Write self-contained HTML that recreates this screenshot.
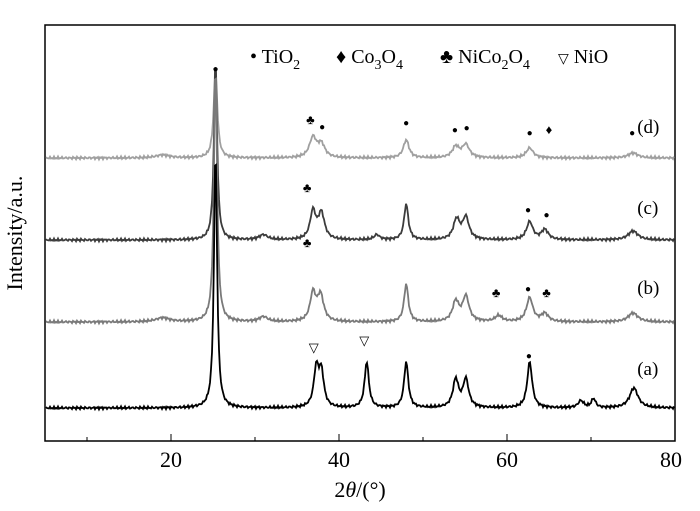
<!DOCTYPE html>
<html><head><meta charset="utf-8"><style>
html,body{margin:0;padding:0;background:#fff;}
svg{display:block;font-family:"Liberation Serif",serif;}
</style></head><body>
<svg id="chart" width="700" height="511" viewBox="0 0 700 511">
<rect x="45" y="25" width="630" height="416" fill="none" stroke="#000" stroke-width="1.5"/>
<g id="ticks"></g>
<g id="series"></g>
<g id="marks"></g>
<g font-size="20">
<text x="250" y="63">• TiO<tspan font-size="14" dy="6">2</tspan></text>
<text x="336" y="63">♦ Co<tspan font-size="14" dy="6">3</tspan><tspan dy="-6">O</tspan><tspan font-size="14" dy="6">4</tspan></text>
<text x="440" y="63">♣ NiCo<tspan font-size="14" dy="6">2</tspan><tspan dy="-6">O</tspan><tspan font-size="14" dy="6">4</tspan></text>
<text x="558" y="63"><tspan font-size="14">▽</tspan> NiO</text>
</g>
<text x="22" y="233" font-size="22" text-anchor="middle" transform="rotate(-90 22 233)">Intensity/a.u.</text>
<text x="360" y="497" font-size="22" text-anchor="middle">2<tspan font-style="italic">θ</tspan>/(°)</text>
</svg>
<script>
const xMin=5, xMax=80;
const majorTicks=[20,40,60,80];
const minorTicks=[10,30,50,70];
const seriesNames=['a','b','c','d'];
const seriesColors=['#000','#7a7a7a','#3c3c3c','#a0a0a0'];
const baselines=[408,322,240,158];
const peakPos=[
 [25.3,37.3,37.9,43.3,48.0,53.9,55.1,62.7,68.8,70.3,75.1],
 [19,25.3,31,36.9,37.8,48.0,53.9,55.1,59,62.7,64.5,75.0],
 [25.3,31,36.9,37.9,44.5,48.0,54.0,55.1,62.7,64.5,75.0],
 [19,25.3,36.9,37.9,48.0,53.9,55.1,62.7,75.0]
];
const peakHeights=[
 [260,38,34,46,46,28,28,46,7,9,20],
 [4,260,5,28,26,38,20,25,6,24,8,9],
 [180,5,28,26,5,36,20,22,18,10,9],
 [3,90,20,13,18,11,13,10,5]
];
const peakWidths=[
 [0.22,0.35,0.35,0.3,0.3,0.4,0.4,0.35,0.4,0.3,0.6],
 [1,0.22,0.6,0.4,0.45,0.3,0.45,0.45,0.5,0.45,0.5,0.7],
 [0.22,0.6,0.4,0.45,0.4,0.3,0.45,0.45,0.45,0.5,0.7],
 [1,0.25,0.5,0.5,0.4,0.5,0.5,0.5,0.7]
];
const markers=[
 ['●',25.3,68],['♣',36.6,120],['●',38.0,126],['●',48.0,122],['●',53.8,129],['●',55.2,127],['●',62.7,132],['♦',65.0,130],['●',74.9,132],
 ['♣',36.2,188],['●',62.5,209],['●',64.7,214],
 ['♣',36.2,243],['♣',58.7,293],['●',62.5,288],['♣',64.7,293],
 ['▽',37.0,348],['▽',43.0,341],['●',62.6,355]
];
const labels=['(a)','(b)','(c)','(d)'];
const labelY=[375,294,214,133];
const labelX=[75.5,75.5,75.5,75.5];
const NS='http://www.w3.org/2000/svg';
const sx=v=>45+(v-xMin)/(xMax-xMin)*630;
const tg=document.getElementById('ticks');
majorTicks.forEach(t=>{
 const l=document.createElementNS(NS,'line');
 l.setAttribute('x1',sx(t));l.setAttribute('x2',sx(t));l.setAttribute('y1',441);l.setAttribute('y2',434);l.setAttribute('stroke','#000');
 
 
 tg.appendChild(l);
 const tx=document.createElementNS(NS,'text');
 tx.setAttribute('x',sx(t)-(t==80?4:0));tx.setAttribute('y',467);tx.setAttribute('font-size','22');tx.setAttribute('text-anchor','middle');tx.textContent=t;
 
 
 tg.appendChild(tx);
});
minorTicks.forEach(t=>{
 const l=document.createElementNS(NS,'line');
 l.setAttribute('x1',sx(t));l.setAttribute('x2',sx(t));l.setAttribute('y1',441);l.setAttribute('y2',437);l.setAttribute('stroke','#000');
 
 
 tg.appendChild(l);
});
const sg=document.getElementById('series');
for(let s=3;s>=0;s--){
 let d='';
 for(let px=46;px<=674;px+=1){
  const x=xMin+(px-45)/630*(xMax-xMin);
  let y=0;
  peakPos[s].forEach((p,i)=>{const w=peakWidths[s][i];y+=peakHeights[s][i]/(1+((x-p)/w)**2);});
  const ripple=1.5*Math.sin(px*2.3)*Math.cos(px*0.7);
  d+=(d?'L':'M')+px+','+(baselines[s]-y+ripple).toFixed(1);
 }
 const p=document.createElementNS(NS,'path');
 p.setAttribute('d',d);p.setAttribute('fill','none');p.setAttribute('stroke',seriesColors[s]);p.setAttribute('stroke-width','1.8');
 
 
 sg.appendChild(p);
 const t=document.createElementNS(NS,'text');
 t.setAttribute('x',sx(labelX[s]));t.setAttribute('y',labelY[s]);t.setAttribute('font-size','19');t.textContent=labels[s];
 
 
 sg.appendChild(t);
}
const mg=document.getElementById('marks');
markers.forEach(m=>{
 const t=document.createElementNS(NS,'text');
 t.setAttribute('x',sx(m[1]));t.setAttribute('y',m[2]+4);t.setAttribute('text-anchor','middle');
 t.setAttribute('font-size',m[0]=='●'?'10':'13');
 t.textContent=m[0];
 
 
 mg.appendChild(t);
});
</script>
</body></html>
